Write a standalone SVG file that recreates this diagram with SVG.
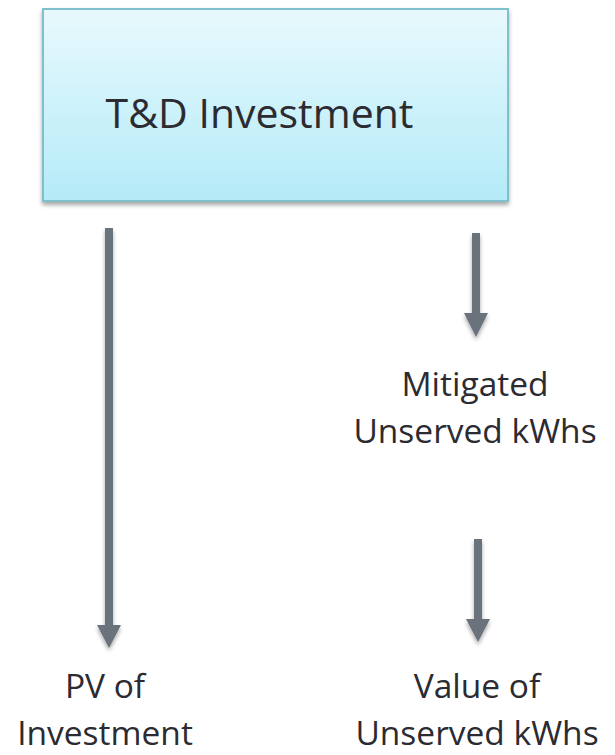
<svg xmlns="http://www.w3.org/2000/svg" width="615" height="755" viewBox="0 0 615 755">
<defs>
<linearGradient id="g" x1="0" y1="0" x2="0" y2="1">
<stop offset="0" stop-color="#e8f9fd"/>
<stop offset="1" stop-color="#b4ebf8"/>
</linearGradient>
<filter id="sh" x="-10%" y="-10%" width="120%" height="130%">
<feGaussianBlur in="SourceAlpha" stdDeviation="2"/>
<feOffset dx="0" dy="3"/>
<feComponentTransfer><feFuncA type="linear" slope="0.35"/></feComponentTransfer>
<feMerge><feMergeNode/><feMergeNode in="SourceGraphic"/></feMerge>
</filter>
</defs>
<style>
text{font-family:"Open Sans","Noto Sans",sans-serif;fill:#2b2b31;text-anchor:middle}
.big{font-size:41px}
.lbl{font-size:33.5px}
.arr{fill:#6a737b}
</style>
<g id="td">
<rect x="43" y="9" width="465" height="192" fill="url(#g)" stroke="#80c0cc" stroke-width="2" filter="url(#sh)"/>
<text class="big" x="259.5" y="128">T&amp;D Investment</text>
</g>
<g id="connectors" filter="url(#sh)">
<path class="arr" d="M105,228 H113 V625 H121 L109,648 L97,625 H105 Z"/>
<path class="arr" d="M472,233 H480 V313 H488 L476,337 L464,313 H472 Z"/>
<path class="arr" d="M474,539 H482 V619 H490 L478,642 L466,619 H474 Z"/>
</g>
<g id="mitigated">
<text class="lbl" x="475" y="396">Mitigated</text>
<text class="lbl" x="475" y="443">Unserved kWhs</text>
</g>
<g id="pv">
<text class="lbl" x="105" y="698">PV of</text>
<text class="lbl" x="105" y="745">Investment</text>
</g>
<g id="value">
<text class="lbl" x="477" y="698">Value of</text>
<text class="lbl" x="477" y="745">Unserved kWhs</text>
</g>
</svg>
